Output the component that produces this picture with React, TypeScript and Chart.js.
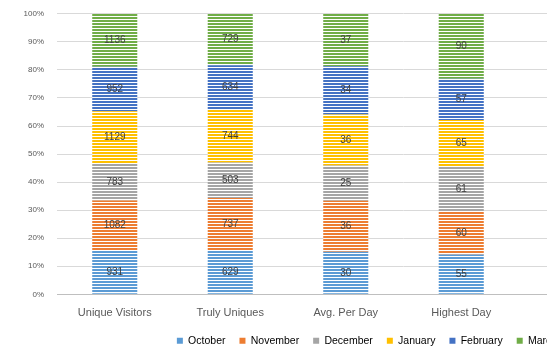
import React, { useEffect, useRef } from "react";
import { Chart, registerables } from "chart.js";

Chart.register(...registerables);

// Categories shown on the x axis (the last two slots lie past the visible edge)
const categories = ["Unique Visitors", "Truly Uniques", "Avg. Per Day", "Highest Day", "", ""];

// Monthly values per category
const october = [931, 629, 30, 55];
const november = [1082, 737, 36, 60];
const december = [783, 503, 25, 61];
const january = [1129, 744, 36, 65];
const february = [952, 634, 34, 57];
const march = [1136, 729, 37, 90];

const seriesNames = ["October", "November", "December", "January", "February", "March"];
const seriesColors = ["#5B9BD5", "#ED7D31", "#A5A5A5", "#FFC000", "#4472C4", "#70AD47"];
const yTicks = [0, 0.1, 0.2, 0.3, 0.4, 0.5, 0.6, 0.7, 0.8, 0.9, 1];

const FONT = "'Liberation Sans', Arial, sans-serif";
const TEXT = "#595959";

function stripes(color: string): CanvasPattern | string {
  const c = document.createElement("canvas");
  c.width = 4;
  c.height = 3;
  const g = c.getContext("2d");
  if (!g) return color;
  g.fillStyle = color;
  g.fillRect(0, 0, 4, 2);
  g.fillStyle = "rgba(255,255,255,0.8)";
  g.fillRect(0, 2, 4, 1);
  const p = g.createPattern(c, "repeat");
  return p || color;
}

export default function App() {
  const ref = useRef<HTMLCanvasElement | null>(null);

  useEffect(() => {
    if (!ref.current) return;
    const series = [october, november, december, january, february, march];
    const totals = october.map((_, j) => series.reduce((s, arr) => s + arr[j], 0));

    const valueLabels = {
      id: "valueLabels",
      afterDatasetsDraw(chart: any) {
        const ctx = chart.ctx;
        ctx.save();
        ctx.font = `10px ${FONT}`;
        ctx.fillStyle = "#404040";
        ctx.textAlign = "center";
        ctx.textBaseline = "middle";
        chart.data.datasets.forEach((_: any, i: number) => {
          const meta = chart.getDatasetMeta(i);
          meta.data.forEach((bar: any, j: number) => {
            const v = series[i][j];
            if (v == null) return;
            const { x, y, base } = bar.getProps(["x", "y", "base"], true);
            ctx.fillText(String(v), x, (y + base) / 2);
          });
        });
        ctx.restore();
      },
    };

    const chart = new Chart(ref.current, {
      type: "bar",
      data: {
        labels: categories,
        datasets: series.map((arr, i) => ({
          label: seriesNames[i],
          data: arr.map((v, j) => v / totals[j]),
          backgroundColor: stripes(seriesColors[i]) as any,
          borderWidth: 0,
          categoryPercentage: 1,
          barPercentage: 0.39,
        })),
      },
      options: {
        responsive: false,
        animation: false,
        devicePixelRatio: 1,
        layout: { padding: { top: 1, right: 2, bottom: 0, left: -16 } },
        plugins: {
          tooltip: { enabled: false },
          legend: {
            position: "bottom",
            labels: {
              boxWidth: 6,
              boxHeight: 6,
              padding: 14,
              color: TEXT,
              font: { family: FONT, size: 10.5 },
              generateLabels(chart: any) {
                return chart.data.datasets.map((ds: any, i: number) => ({
                  text: ds.label,
                  fillStyle: seriesColors[i],
                  strokeStyle: seriesColors[i],
                  lineWidth: 0,
                  hidden: false,
                  datasetIndex: i,
                }));
              },
            },
          },
        },
        scales: {
          x: {
            stacked: true,
            grid: { display: false, drawTicks: false },
            border: { color: "#BFBFBF", width: 1 },
            afterFit(scale: any) {
              scale.height = scale.height - 10;
            },
            ticks: { color: TEXT, font: { family: FONT, size: 11 }, padding: 12, maxRotation: 0, autoSkip: false },
          },
          y: {
            stacked: true,
            min: 0,
            max: 1,
            afterFit(scale: any) {
              scale.width = 73;
            },
            afterBuildTicks(scale: any) {
              scale.ticks = yTicks.map((v) => ({ value: v }));
            },
            grid: { color: "#D9D9D9", drawTicks: false },
            border: { display: false },
            ticks: {
              color: TEXT,
              font: { family: FONT, size: 8 },
              padding: 13,
              callback: (v: any) => `${Math.round(Number(v) * 100)}%`,
            },
          },
        },
      },
      plugins: [valueLabels],
    });
    return () => chart.destroy();
  }, []);

  return (
    <div style={{ position: "fixed", left: 0, top: 0, width: 547, height: 347, overflow: "hidden", background: "#fff" }}>
      <canvas ref={ref} width={752} height={360} style={{ display: "block", marginTop: -4 }} />
    </div>
  );
}
